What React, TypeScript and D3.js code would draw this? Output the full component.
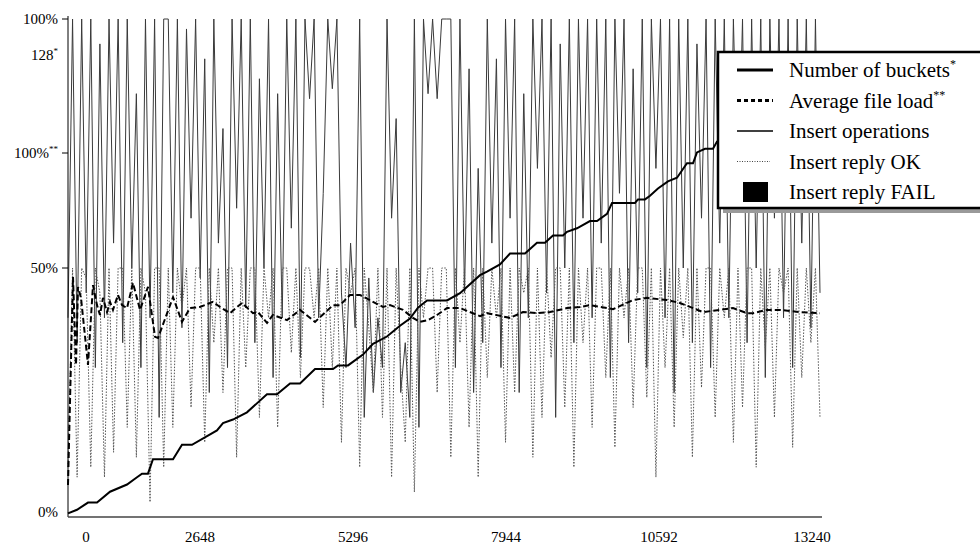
import React from "react";
import * as d3 from "d3";

// x axis (operations)
const xTickLabels = [0, 2648, 5296, 7944, 10592, 13240];
const opsMax = 13240;

// number of buckets (staircase)
const bucketOps = [0, 158, 352, 511, 740, 1039, 1215, 1303, 1408, 1496, 1849, 2007, 2183, 2623, 2729, 2905, 3151, 3503, 3680, 3909, 4085, 4349, 4666, 4754, 4930, 5194, 5370, 5616, 5845, 6021, 6162, 6321, 6673, 6902, 7254, 7377, 7606, 7782, 8046, 8257, 8398, 8539, 8715, 8785, 8961, 9190, 9314, 9490, 9578, 9983, 10035, 10159, 10247, 10387, 10563, 10722, 10898, 11004, 11074, 11215, 11356, 11426, 12183, 13240];
const bucketCounts = [1, 2, 4, 4, 7, 9, 11, 12, 12, 16, 16, 20, 20, 24, 26, 27, 29, 34, 34, 37, 37, 41, 41, 42, 42, 45, 48, 50, 53, 55, 58, 60, 60, 62, 67, 68, 70, 73, 73, 76, 76, 78, 78, 79, 80, 82, 82, 84, 87, 87, 88, 88, 89, 91, 93, 94, 98, 98, 101, 102, 102, 104, 113, 128];

// average file load (% on the ** scale)
const loadOps = [0, 88, 141, 176, 229, 352, 440, 511, 563, 616, 687, 740, 792, 880, 951, 1039, 1144, 1268, 1408, 1532, 1585, 1849, 2007, 2148, 2324, 2553, 2676, 2852, 3063, 3257, 3345, 3504, 3609, 3856, 4085, 4349, 4666, 4789, 4965, 5141, 5370, 5546, 5669, 5898, 6074, 6197, 6338, 6497, 6673, 6902, 7254, 7377, 7782, 8011, 8257, 8486, 8785, 9014, 9190, 9595, 9947, 10194, 10546, 10775, 11180, 11479, 11708, 11954, 12060, 12306, 12535, 12887, 13240];
const loadPct = [8.8, 65.9, 41.8, 63.2, 60.2, 41.8, 63.7, 58.2, 55.5, 60.2, 56.3, 59.1, 56.9, 61.0, 58.2, 57.4, 64.3, 56.9, 63.2, 49.5, 49.2, 60.4, 53.6, 57.4, 57.7, 59.1, 57.7, 56.0, 58.8, 56.0, 56.3, 53.3, 55.5, 54.1, 56.9, 53.6, 58.2, 58.2, 61.0, 61.0, 59.1, 57.7, 58.2, 56.9, 54.7, 53.6, 54.1, 55.5, 57.4, 57.4, 55.2, 56.0, 54.7, 56.3, 56.0, 56.3, 57.4, 57.7, 58.2, 57.1, 59.6, 60.2, 59.6, 58.8, 56.3, 56.9, 57.4, 56.0, 56.0, 56.9, 56.9, 56.3, 56.0];

// insert operations / replies, evenly sampled over 0..13240 (%)
const insertOps = [40, 100, 35, 100, 45, 100, 30, 95, 40, 100, 55, 100, 35, 100, 50, 85, 30, 100, 40, 100,
  20, 100, 100, 45, 100, 38, 98, 60, 100, 48, 92, 25, 100, 55, 78, 30, 100, 62, 100, 42,
  100, 35, 88, 50, 100, 28, 85, 40, 100, 58, 100, 32, 100, 84, 100, 40, 65, 100, 86, 100,
  45, 30, 55, 38, 100, 20, 48, 25, 40, 30, 100, 60, 80, 25, 35, 20, 100, 18, 100, 85,
  100, 84, 100, 100, 100, 30, 100, 45, 90, 25, 70, 35, 100, 55, 92, 30, 100, 60, 100, 25,
  85, 40, 100, 70, 100, 45, 100, 20, 95, 50, 100, 35, 100, 60, 100, 40, 100, 55, 100, 28,
  100, 65, 100, 35, 90, 45, 100, 30, 100, 70, 100, 40, 100, 25, 100, 50, 100, 35, 95, 60,
  100, 30, 100, 55, 100, 40, 100, 62, 100, 35, 100, 50, 100, 28, 100, 60, 100, 40, 100, 30,
  100, 55, 100, 38, 100, 45];
const insertOk = [10, 50, 8, 50, 48, 10, 50, 45, 8, 50, 13, 50, 50, 18, 50, 12, 50, 45, 3, 50,
  50, 10, 50, 18, 50, 42, 50, 22, 50, 50, 15, 50, 35, 50, 25, 50, 50, 12, 50, 30,
  50, 50, 20, 50, 40, 50, 18, 50, 50, 33, 50, 28, 50, 50, 40, 50, 22, 50, 30, 50,
  15, 50, 45, 50, 10, 50, 38, 25, 50, 20, 50, 8, 50, 30, 15, 50, 5, 50, 40, 50,
  50, 25, 50, 50, 12, 50, 35, 50, 18, 50, 8, 50, 28, 50, 40, 50, 15, 50, 25, 50,
  45, 50, 12, 50, 20, 50, 32, 50, 50, 22, 50, 10, 50, 35, 50, 18, 50, 50, 28, 50,
  14, 50, 40, 50, 22, 50, 50, 24, 50, 8, 50, 30, 50, 18, 50, 36, 50, 12, 50, 26,
  50, 50, 20, 50, 40, 50, 15, 50, 22, 50, 50, 10, 50, 34, 50, 20, 50, 45, 50, 14,
  50, 28, 50, 35, 50, 20];
const insertFail = [0, 0, 0, 0, 0, 0, 0, 0, 0, 0];

const legendLabels = ["Number of buckets", "Average file load", "Insert operations", "Insert reply OK", "Insert reply FAIL"];
const legendSups = ["*", "**", "", "", ""];

const FONT = "'Liberation Serif', 'Times New Roman', serif";

export default function App() {
  const width = 980;
  const height = 545;
  const left = 68;
  const right = 820;
  const bottom = 517;

  const x = d3.scaleLinear().domain([0, opsMax]).range([left, right]);
  const yPct = d3.scaleLinear().domain([0, 100]).range([bottom, 19]);
  const yLoad = d3.scaleLinear().domain([0, 100]).range([bottom, 153]);
  const yBuckets = d3.scaleLinear().domain([0, 128]).range([bottom, 55]);
  // the category labels sit a bit left of the data positions
  const xLabel = d3.scaleLinear().domain([0, opsMax]).range([47, 812]);

  const evenX = (arr: number[]) => (_: number, i: number) => x((i * opsMax) / (arr.length - 1));

  const opsPath = d3.line<number>().x(evenX(insertOps)).y(d => yPct(Math.min(d, 100)))(insertOps);
  const okPath = d3.line<number>().x(evenX(insertOk)).y(d => yPct(d))(insertOk);
  const failPath = d3.area<number>().x(evenX(insertFail)).y0(bottom).y1(d => yPct(d))(insertFail);
  const loadPath = d3.line<number>().x((_, i) => x(loadOps[i])).y(d => yLoad(d))(loadPct);
  const bucketPath = d3.line<number>().x((_, i) => x(bucketOps[i])).y(d => yBuckets(d))(bucketCounts);

  const yLabels = [
    { text: "100%", sup: "", y: yPct(100), tick: true },
    { text: "128", sup: "*", y: yBuckets(128), tick: false },
    { text: "100%", sup: "**", y: yLoad(100), tick: true },
    { text: "50%", sup: "", y: yPct(50), tick: true },
    { text: "0%", sup: "", y: yPct(0) - 5, tick: false },
  ];

  const lgX = 718;
  const lgY = 52;
  const rowY = (i: number) => 70 + i * 30.5;

  return (
    <svg width={width} height={height} style={{ position: "absolute", left: 0, top: 0, background: "#fff" }}
      fontFamily={FONT}>
      <rect width={width} height={height} fill="#fff" />

      <path d={opsPath ?? ""} fill="none" stroke="#3a3a3a" strokeWidth={1} />
      <path d={okPath ?? ""} fill="none" stroke="#555" strokeWidth={1} strokeDasharray="1.5,1.5" />
      <path d={failPath ?? ""} fill="#000" />
      <path d={loadPath ?? ""} fill="none" stroke="#000" strokeWidth={2} strokeDasharray="6,3" />
      <path d={bucketPath ?? ""} fill="none" stroke="#000" strokeWidth={2} />

      {/* axes */}
      <line x1={left} x2={left} y1={16} y2={bottom} stroke="#000" strokeWidth={1} />
      <line x1={left} x2={822} y1={bottom} y2={bottom} stroke="#444" strokeWidth={1.6} />

      {yLabels.map((l, i) => (
        <g key={i}>
          {l.tick && <line x1={62} x2={left} y1={l.y} y2={l.y} stroke="#000" strokeWidth={1} />}
          <text x={58} y={l.y + 5} fontSize={15} textAnchor="end">
            {l.text}
            {l.sup && <tspan fontSize={9} dy={-6}>{l.sup}</tspan>}
          </text>
        </g>
      ))}

      {xTickLabels.map((v, i) => (
        <text key={i} x={Math.max(xLabel(v), 86)} y={542} fontSize={15} textAnchor="middle">{v}</text>
      ))}

      {/* legend */}
      <rect x={lgX + 5} y={lgY + 5} width={300} height={156} fill="#9a9a9a" />
      <rect x={lgX} y={lgY} width={300} height={156} fill="#fff" stroke="#000" strokeWidth={2.5} />
      {legendLabels.map((lab, i) => {
        const cy = rowY(i);
        return (
          <g key={lab}>
            {i === 0 && <line x1={737} x2={773} y1={cy} y2={cy} stroke="#000" strokeWidth={3} />}
            {i === 1 && <line x1={737} x2={773} y1={cy} y2={cy} stroke="#000" strokeWidth={3} strokeDasharray="4,3" />}
            {i === 2 && <line x1={737} x2={773} y1={cy} y2={cy} stroke="#000" strokeWidth={1.5} />}
            {i === 3 && <line x1={737} x2={770} y1={cy} y2={cy} stroke="#444" strokeWidth={1} strokeDasharray="1,1.5" />}
            {i === 4 && <rect x={743} y={cy - 10} width={25} height={20} fill="#000" />}
            <text x={789} y={cy + 7} fontSize={21}>
              {lab}
              {legendSups[i] && <tspan fontSize={12} dy={-9}>{legendSups[i]}</tspan>}
            </text>
          </g>
        );
      })}
    </svg>
  );
}
